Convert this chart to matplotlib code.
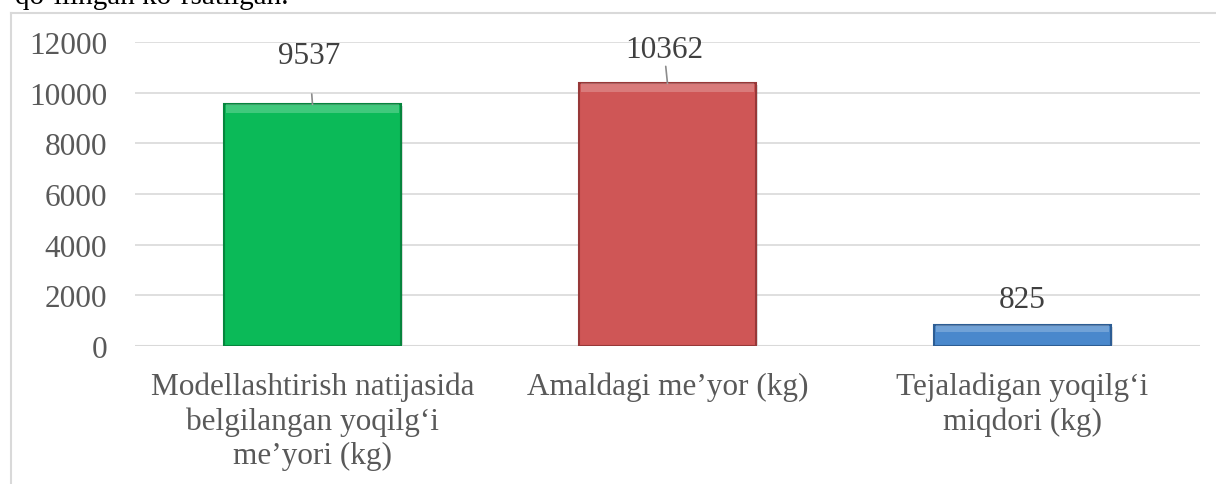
import matplotlib
matplotlib.use("Agg")
import matplotlib.pyplot as plt
from matplotlib.lines import Line2D

categories = ["Modellashtirish natijasida\nbelgilangan yoqilg\u2018i\nme\u2019yori (kg)",
              "Amaldagi me\u2019yor (kg)",
              "Tejaladigan yoqilg\u2018i\nmiqdori (kg)"]
values = [9537, 10362, 825]
label_y = [11450, 11720, 1850]
yticks = [0, 2000, 4000, 6000, 8000, 10000, 12000]
colors = ["#0BBA58", "#CF5656", "#4A88CC"]
edges = ["#06853D", "#973838", "#2D5D94"]

plt.rcParams['font.family'] = ['Liberation Serif', 'DejaVu Serif']
fig = plt.figure(figsize=(12.16, 4.85), dpi=100)
ax = fig.add_axes([135/1216, 138/485, 1065/1216, 304/485])

x = list(range(len(values)))
# soft shadow
ax.bar([xi + 0.006 for xi in x], values, width=0.5, bottom=[-60] * len(values),
       color="#000000", alpha=0.12, linewidth=0, zorder=2)
ax.bar(x, values, width=0.5, color=colors, edgecolor=edges, linewidth=1.5, zorder=3)
# bevel highlight on top
bev = [min(v * 0.35, 320) for v in values]
ax.bar(x, bev, bottom=[v - b for v, b in zip(values, bev)],
       width=0.49, color="white", alpha=0.22, linewidth=0, zorder=4)

for xi, v, ly in zip(x, values, label_y):
    if ly - v > 1200:
        ax.annotate(str(v), xy=(xi, v), xytext=(xi - 0.01, ly), ha="center", va="center",
                    fontsize=22.5, color="#404040",
                    arrowprops=dict(arrowstyle="-", color="#8c8c8c", lw=1.2, shrinkA=15, shrinkB=0))
    else:
        ax.text(xi, ly, str(v), ha="center", va="center", fontsize=22.5, color="#404040")

ax.set_xlim(-0.5, 2.5)
ax.set_ylim(0, 12000)
ax.set_yticks(yticks)
ax.set_yticklabels([str(t) for t in yticks])
ax.set_xticks(x)
ax.set_xticklabels(categories, linespacing=1.25)
ax.tick_params(axis="y", length=0, pad=20, labelsize=22.5, labelcolor="#595959")
ax.tick_params(axis="x", length=0, pad=18, labelsize=22.5, labelcolor="#595959")
ax.grid(axis="y", color="#d9d9d9", lw=1.2, zorder=0)
for s in ax.spines.values():
    s.set_visible(False)
ax.axhline(0, color="#d9d9d9", lw=1.5, zorder=2.5)

# outer chart frame (left and top visible)
fig.add_artist(Line2D([11/1216, 11/1216], [0, 1 - 14/485], transform=fig.transFigure, color="#d9d9d9", lw=1.5))
fig.add_artist(Line2D([11/1216, 1], [1 - 14/485, 1 - 14/485], transform=fig.transFigure, color="#d9d9d9", lw=1.5))

# partial caption at top (cut off in the source)
fig.text(15/1216, 1 + 3/485, "qo\u2018llingan ko\u2018rsatilgan.", ha="left", va="center", fontsize=21, color="black")

fig.savefig("out.png", dpi=100)
